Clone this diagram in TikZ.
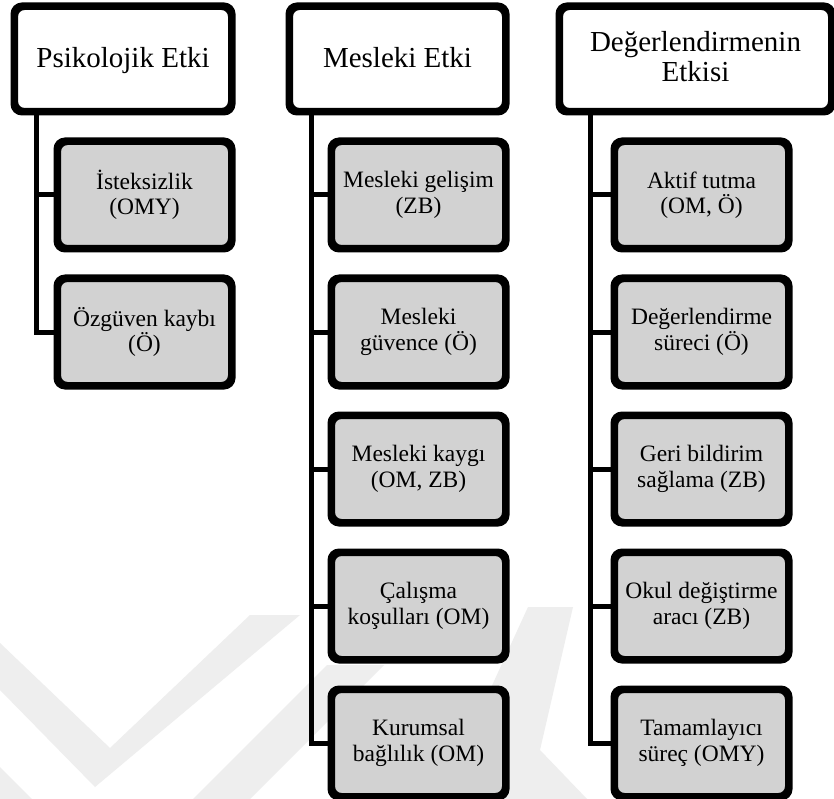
\documentclass[tikz,border=0pt]{standalone}
\usepackage{fontspec}
\setmainfont{Liberation Serif}
\definecolor{subgray}{RGB}{210,210,210}
\definecolor{markgray}{RGB}{238,238,238}
\newcommand{\headstrut}{\vrule height 24pt depth 6pt width 0pt}
\newcommand{\substrut}{\vrule height 19.5pt depth 4.5pt width 0pt}
\begin{document}
\begin{tikzpicture}[x=1pt,y=-1pt,
  headbox/.style={draw=black, line width=5pt, rounded corners=9pt, fill=white,
    align=center, minimum height=103pt, inner sep=0pt,
    font=\fontsize{29}{30}\selectfont,
    execute at begin node=\headstrut, execute at end node=\headstrut},
  subbox/.style={draw=black, line width=5pt, rounded corners=9pt, fill=subgray,
    align=center, minimum width=172pt, minimum height=105pt, inner sep=0pt,
    font=\fontsize{23.5}{25.5}\selectfont,
    execute at begin node=\substrut, execute at end node=\substrut},
  branch/.style={draw=black, line width=5pt}]

% page and margins
\fill[white] (0,0) rectangle (834,799);
\useasboundingbox (0,0) rectangle (834,799);

% faint background emblem
\begin{scope}[fill=markgray]
  \fill (0,643) -- (110,748) -- (250,615) -- (300,615) -- (95,787) -- (0,690) -- cycle;
  \fill (0,767) -- (32,799) -- (0,799) -- cycle;
  \fill (193,799) -- (250,799) -- (384,665) -- (327,665) -- cycle;
  \fill (440,799) -- (528,607) -- (573,607) -- (540,750) -- (587,799) -- cycle;
\end{scope}

% trunk tops, just under the header boxes
\coordinate (t1) at (36,111);
\coordinate (t2) at (311,111);
\coordinate (t3) at (590,111);

% header boxes
\node[headbox, minimum width=215pt] (h1) at (123,59) {Psikolojik Etki};
\node[headbox, minimum width=214pt] (h2) at (397.5,59) {Mesleki Etki};
\node[headbox, minimum width=270pt] (h3) at (695.5,59) {Değerlendirmenin\\Etkisi};

% sub boxes
\node[subbox] (a1) at (144.5,195) {İsteksizlik\\(OMY)};
\node[subbox] (a2) at (144.5,332) {Özgüven kaybı\\(Ö)};

\node[subbox] (b1) at (418.5,195) {Mesleki gelişim\\(ZB)};
\node[subbox] (b2) at (418.5,332) {Mesleki\\güvence (Ö)};
\node[subbox] (b3) at (418.5,469) {Mesleki kaygı\\(OM, ZB)};
\node[subbox] (b4) at (418.5,606) {Çalışma\\koşulları (OM)};
\node[subbox] (b5) at (418.5,743) {Kurumsal\\bağlılık (OM)};

\node[subbox] (c1) at (701.5,195) {Aktif tutma\\(OM, Ö)};
\node[subbox] (c2) at (701.5,332) {Değerlendirme\\süreci (Ö)};
\node[subbox] (c3) at (701.5,469) {Geri bildirim\\sağlama (ZB)};
\node[subbox] (c4) at (701.5,606) {Okul değiştirme\\aracı (ZB)};
\node[subbox] (c5) at (701.5,743) {Tamamlayıcı\\süreç (OMY)};

% elbow connectors from each trunk to its boxes
\foreach \c in {a1,a2} \draw[branch] (t1) |- (\c.west);
\foreach \c in {b1,b2,b3,b4,b5} \draw[branch] (t2) |- (\c.west);
\foreach \c in {c1,c2,c3,c4,c5} \draw[branch] (t3) |- (\c.west);

% box outlines drawn again over the connector ends
\foreach \n in {h1,h2,h3,a1,a2,b1,b2,b3,b4,b5,c1,c2,c3,c4,c5}
  \draw[line width=5pt, rounded corners=9pt] (\n.south west) rectangle (\n.north east);
\end{tikzpicture}
\end{document}
